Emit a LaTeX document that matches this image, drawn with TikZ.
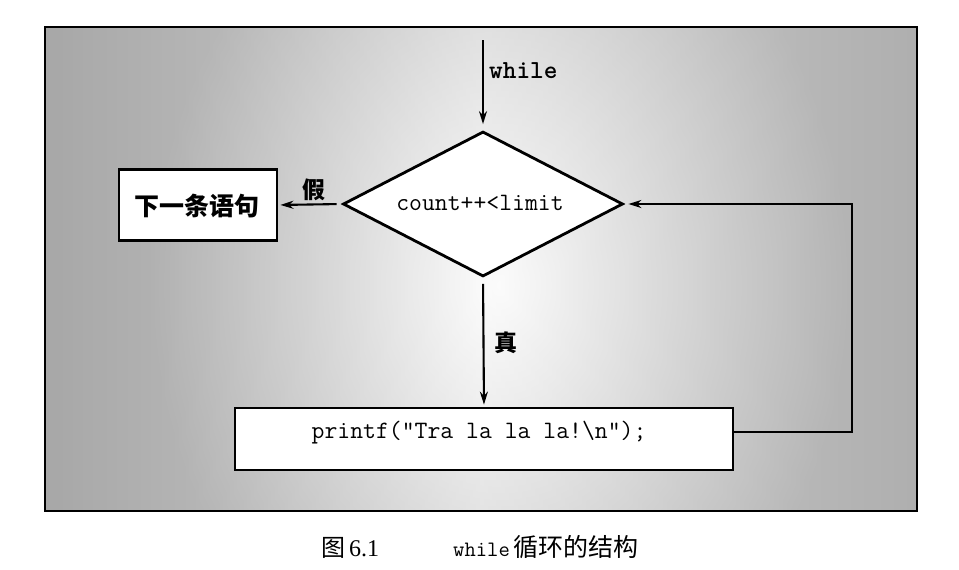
\documentclass[tikz,border=0pt]{standalone}
\usepackage{fontspec}
\setmainfont{Liberation Serif}
\newfontfamily\cjk{Noto Sans CJK SC}
\usetikzlibrary{shapes.geometric,arrows.meta}
\tikzset{
  x=1pt,y=-1pt,
  line/.style={draw=black,line width=2.1pt},
  arr/.style={line,-{Stealth[length=13pt,width=8pt]}},
  procbox/.style={draw=black,line width=2.8pt,fill=white,rectangle,inner sep=0pt},
  decision/.style={draw=black,line width=2.8pt,fill=white,diamond,inner sep=0pt,minimum width=280pt,minimum height=145pt},
  lbl/.style={inner sep=0pt,font=\fontsize{23}{26}\selectfont\cjk\bfseries},
  code/.style={font=\fontsize{25}{28}\selectfont\ttfamily},
}
\begin{document}
\begin{tikzpicture}
\useasboundingbox (0,0) rectangle (959,570);
\fill[white] (0,0) rectangle (959,570);
% textured panel
\begin{scope}
  \clip (45,27) rectangle (917,511);
  \fill[gray!55] (45,27) rectangle (917,511);
  \shade[inner color=gray!3,outer color=gray!55] (150,-150) rectangle (850,720);
  \shade[left color=black!50,right color=black!40,middle color=white,opacity=0.3] (45,27) rectangle (917,511);
\end{scope}
\draw[black,line width=2.6pt] (45,27) rectangle (917,511);

% nodes
\node[decision] (dia) at (483,204) {};
\node[code] (cond) at (480,203) {count++<limit};
\node[procbox,minimum width=158pt,minimum height=71pt] (next) at (198,205) {};
\node[lbl,font=\fontsize{25}{27}\selectfont\cjk\bfseries] (nexttxt) at (197,206) {下一条语句};
\node[procbox,minimum width=498pt,minimum height=62pt] (pf) at (484,439) {};
\node[code] (pftxt) at (479,433) {printf("Tra la la la!\textbackslash n");};

\coordinate (start) at (483,40);
\coordinate (c1) at (852,432);
\coordinate (c2) at (852,204);

% connectors
\draw[arr,shorten >=6pt] (start) -- (dia.north);
\draw[arr,shorten <=5pt,shorten >=2pt] (dia.west) -- (next.east);
\draw[arr,shorten <=6pt,shorten >=2pt] (dia.south) -- (pf.north);
\draw[arr,shorten >=4pt] (pf.east |- c1) -- (c1) -- (c2) -- (dia.east);

% labels
\node[anchor=west,inner sep=0pt,font=\fontsize{26}{28}\selectfont\ttfamily\bfseries] (wl) at (489,71) {while};
\node[lbl] (jia) at (314,190) {假};
\node[lbl] (zhen) at (506,343) {真};

% caption
\node[anchor=west,inner sep=0pt,font=\fontsize{24}{26}\selectfont] (cap) at (321,547)
  {{\cjk 图}\,6.1\hspace{74pt}{\fontsize{22}{26}\selectfont\ttfamily while}\,{\cjk\fontsize{25}{26}\selectfont 循环的结构}};
\end{tikzpicture}
\end{document}
